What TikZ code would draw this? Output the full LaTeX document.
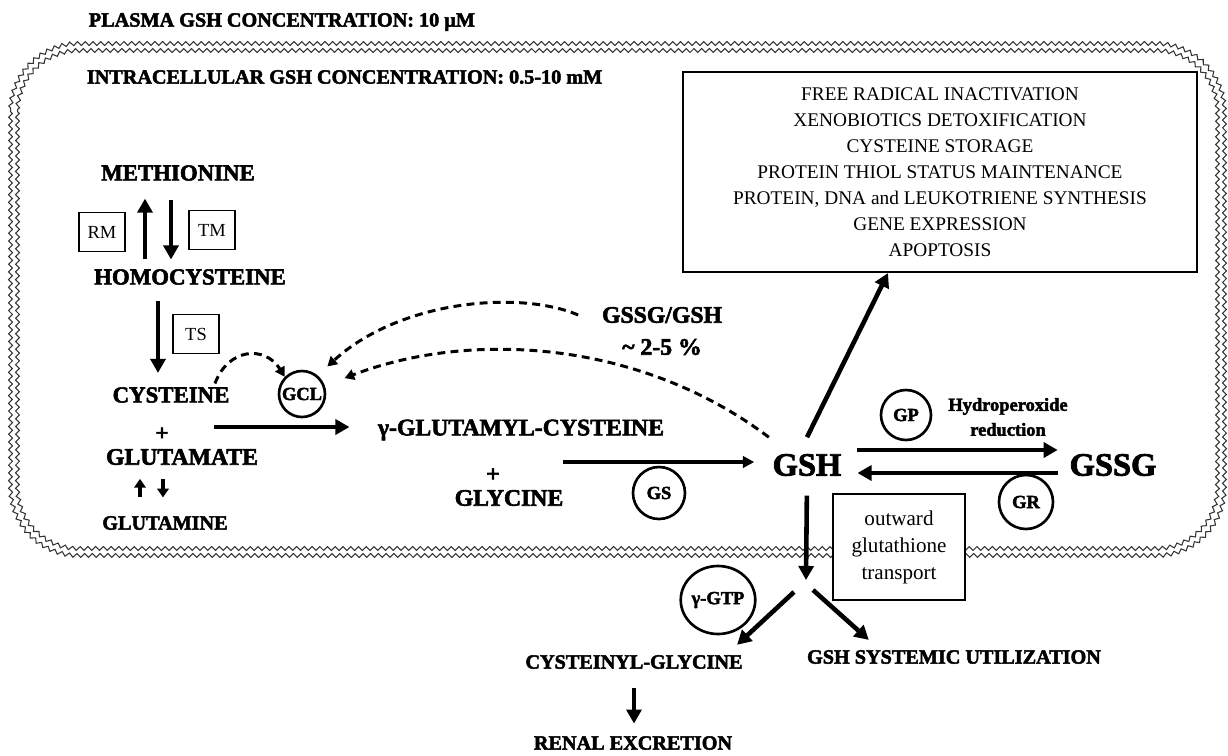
\documentclass[tikz,border=0pt]{standalone}
\usepackage{fontspec}
\setmainfont[BoldFeatures={FakeBold=2.4}]{Liberation Serif}
\usetikzlibrary{arrows.meta,positioning,calc,decorations.pathmorphing,shapes.geometric}

\tikzset{
  mol/.style={font=\bfseries\fontsize{13}{15}\selectfont, inner sep=2pt},
  molwide/.style={font=\bfseries\fontsize{13.5}{15}\selectfont, inner sep=2pt},
  molsm/.style={font=\bfseries\fontsize{11.5}{14}\selectfont, inner sep=2pt},
  molbig/.style={font=\bfseries\fontsize{18.5}{20}\selectfont, inner sep=2pt},
  enzyme/.style={circle, draw, line width=1.5pt, inner sep=0pt, minimum size=0.92cm, font=\bfseries\fontsize{10.5}{12}\selectfont},
  enzbox/.style={draw, line width=0.8pt, inner sep=0pt, minimum width=0.92cm, minimum height=0.78cm, font=\fontsize{10.5}{12}\selectfont},
  fat/.style={line width=2.6pt, -{Triangle[length=8pt,width=8.5pt]}},
  fatshort/.style={line width=2.4pt, -{Triangle[length=5pt,width=6.5pt]}},
  slim/.style={line width=1.8pt, -{Triangle[length=6.5pt,width=6.5pt]}},
  dashy/.style={line width=1.7pt, dash pattern=on 4.5pt off 3pt, -{Triangle[length=5.5pt,width=6pt]}},
  membrane/.style={draw=black!80, line width=0.6pt, decorate, decoration={zigzag, amplitude=1.1pt, segment length=4.4pt}}
}

\begin{document}
\begin{tikzpicture}[x=0.02cm, y=-0.02cm]
  \useasboundingbox (0,0) rectangle (1228,755);

  % cell membrane, two rows
  \draw[membrane] (10.5,111.5) -- (10.5,487.5) arc[start angle=180, end angle=270, radius=1.36cm]
    -- (1156.5,555.5) arc[start angle=270, end angle=360, radius=1.36cm]
    -- (1224.5,111.5) arc[start angle=0, end angle=90, radius=1.36cm]
    -- (78.5,43.5) arc[start angle=90, end angle=180, radius=1.36cm] -- cycle;
  \draw[membrane] (17.5,111.5) -- (17.5,487.5) arc[start angle=180, end angle=270, radius=1.22cm]
    -- (1156.5,548.5) arc[start angle=270, end angle=360, radius=1.22cm]
    -- (1217.5,111.5) arc[start angle=0, end angle=90, radius=1.22cm]
    -- (78.5,50.5) arc[start angle=90, end angle=180, radius=1.22cm] -- cycle;

  \node[molsm, anchor=west] (plasma) at (85,22) {PLASMA GSH CONCENTRATION: 10 µM};
  \node[molsm, anchor=west] (intra) at (83,77) {INTRACELLULAR GSH CONCENTRATION: 0.5-10 mM};

  \node[draw, line width=1.2pt, minimum width=10.28cm, minimum height=4cm, align=center,
        font=\fontsize{11}{14.8}\selectfont] (roles) at (940,172)
    {FREE RADICAL INACTIVATION\\ XENOBIOTICS DETOXIFICATION\\ CYSTEINE STORAGE\\
     PROTEIN THIOL STATUS MAINTENANCE\\ PROTEIN, DNA and LEUKOTRIENE SYNTHESIS\\
     GENE EXPRESSION\\ APOPTOSIS};

  % transsulfuration side
  \node[mol] (meth) at (178,173) {METHIONINE};
  \node[mol] (homo) at (190,277) {HOMOCYSTEINE};
  \node[mol] (cys) at (171,395) {CYSTEINE};
  \node[mol] (plusA) at (162,434) {+};
  \node[molwide] (glu) at (182,457) {GLUTAMATE};
  \node[molsm] (gln) at (165,523) {GLUTAMINE};
  \node[enzbox] (rm) at (102,232) {RM};
  \node[enzbox] (tm) at (212,230) {TM};
  \node[enzbox] (ts) at (196,334) {TS};
  \node[enzyme] (gcl) at (302,394) {GCL};

  \draw[fat, shorten <=3.4pt, shorten >=8pt] (homo.north -| 145,0) -- (meth.south -| 145,0);
  \draw[fat, shorten <=9pt, shorten >=3.4pt] (meth.south -| 171,0) -- (homo.north -| 171,0);
  \draw[fat, shorten <=7pt, shorten >=6pt] (homo.south -| 158,0) -- (cys.north -| 158,0);
  \draw[fatshort, shorten <=8.5pt, shorten >=5.7pt] (gln.north -| 140,0) -- (glu.south -| 140,0);
  \draw[fatshort, shorten <=5.7pt, shorten >=8.5pt] (glu.south -| 163,0) -- (gln.north -| 163,0);

  % synthesis
  \node[molwide] (ggc) at (521,430) {γ-GLUTAMYL-CYSTEINE};
  \node[molwide] (plusB) at (493,475) {+};
  \node[molwide] (gly) at (509,498) {GLYCINE};
  \node[enzyme, minimum size=1.04cm] (gs) at (659,493) {GS};
  \coordinate (cysglu) at (214,427);
  \draw[fat, shorten >=14pt] (cysglu) -- (cysglu -| ggc.west);

  \node[molbig] (gsh) at (807,465) {GSH};
  \node[molbig] (gssg) at (1113,465) {GSSG};
  \coordinate (glyend) at (563,462);
  \draw[slim, shorten >=8.3pt] (glyend) -- (glyend -| gsh.west);

  % redox cycle
  \node[enzyme, minimum size=1cm] (gp) at (906,415) {GP};
  \node[font=\bfseries\fontsize{10.5}{14.2}\selectfont, align=center] (hydro) at (1008,417) {Hydroperoxide\\reduction};
  \node[enzyme, minimum size=1.08cm] (gr) at (1026,502) {GR};
  \draw[fat, shorten <=7pt, shorten >=4.6pt] ([yshift=0.3cm]gsh.east) -- ([yshift=0.3cm]gssg.west);
  \draw[fat, shorten <=4.6pt, shorten >=7pt] ([yshift=-0.16cm]gssg.west) -- ([yshift=-0.16cm]gsh.east);

  \draw[fat] ([yshift=0.26cm]gsh.north) -- (roles.south -| 888,0);

  % feedback
  \node[molwide] (ratio) at (662,315) {GSSG/GSH};
  \node[molwide] (pct) at (662,347) {\textasciitilde\ 2-5 \%};
  \draw[dashy] (cys.north -| 215,0) .. controls (228,348) and (265,345) .. (gcl.north west);
  \draw[dashy, shorten >=7.5pt] ([xshift=-0.4cm]ratio.west) .. controls (520,290) and (400,300) .. (gcl.50);
  \draw[dashy, shorten >=12pt] ([yshift=0.26cm]gsh.north west) .. controls (640,340) and (470,330) .. (gcl.20);

  % export
  \node[draw, fill=white, line width=1pt, minimum width=2.64cm, minimum height=2.12cm, align=center,
        font=\fontsize{12}{15.4}\selectfont] (export) at (899,547) {outward\\glutathione\\transport};
  \coordinate (fork) at (806,580);
  \coordinate (forkL) at (794,592);
  \coordinate (forkR) at (813,590);
  \draw[fat, shorten <=9pt] (gsh.south) -- (fork);

  \node[molsm] (cysgly) at (634,662) {CYSTEINYL-GLYCINE};
  \node[molsm] (renal) at (633,743) {RENAL EXCRETION};
  \node[molsm] (gsu) at (954,657) {GSH SYSTEMIC UTILIZATION};
  \node[enzyme, ellipse, minimum width=1.28cm, minimum height=1.36cm] (ggt) at (718,600) {γ-GTP};

  \draw[fat, shorten >=5.5pt] (forkL) -- (cysgly.north -| 730,0);
  \draw[fat, shorten >=5.5pt] (forkR) -- (gsu.north -| 876,0);
  \draw[fat, shorten <=8.5pt, shorten >=5pt] (cysgly.south) -- (cysgly.south |- renal.north);
\end{tikzpicture}
\end{document}
